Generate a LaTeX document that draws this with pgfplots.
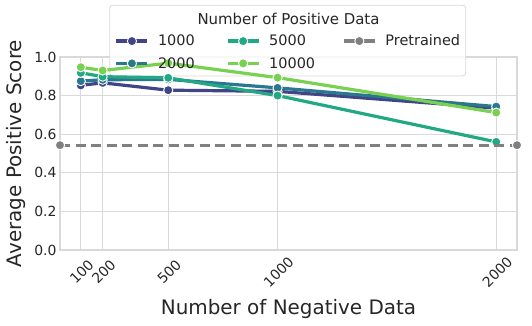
\documentclass[border=0pt]{standalone}
\usepackage{fontspec}
\setmainfont{DejaVu Sans}
\usepackage{pgfplots}
\pgfplotsset{compat=1.18}
\definecolor{v1}{HTML}{414487}
\definecolor{v2}{HTML}{2A788E}
\definecolor{v3}{HTML}{22A884}
\definecolor{v4}{HTML}{7AD151}
\definecolor{pre}{HTML}{808080}
\definecolor{gridc}{HTML}{D9D9D9}
\definecolor{txt}{HTML}{262626}

\pgfplotsset{
  ser/.style={line width=3.2bp, mark=*, mark size=4.6bp,
    mark options={draw=white, line width=0.9bp, solid}},
}
\newcommand{\lent}[2]{\hspace{9bp}\makebox[#1][l]{#2}}

\begin{document}
\begin{tikzpicture}[x=1bp,y=1bp]
\begin{axis}[
  scale only axis,
  width=457bp, height=193bp,
  xmin=5, xmax=2095, ymin=0, ymax=1,
  xtick={100,200,500,1000,2000},
  xticklabels={100,200,500,1000,2000},
  ytick={0,0.2,0.4,0.6,0.8,1.0},
  yticklabel style={/pgf/number format/.cd,fixed,fixed zerofill,precision=1},
  /pgf/number format/assume math mode=true,
  xticklabel style={yshift=-22bp, xshift=1bp, rotate=45, anchor=center},
  ticklabel style={font=\fontsize{14}{16}\selectfont, text=txt},
  major tick length=0pt,
  grid=major,
  grid style={draw=gridc, line width=1bp},
  axis line style={draw=gridc, line width=1.2bp},
  xlabel={Number of Negative Data},
  ylabel={Average Positive Score},
  label style={font=\fontsize{20}{23}\selectfont, text=txt},
  xlabel style={at={(rel axis cs:0.5,0)}, anchor=center, yshift=-59bp},
  ylabel style={at={(rel axis cs:0,0.5)}, anchor=center, yshift=44bp},
  clip mode=individual,
  legend columns=3,
  legend style={at={(rel axis cs:0.12,1.125)}, anchor=north west, draw=none, fill=none,
    inner sep=0pt, outer sep=0pt,
    font=\fontsize{14.5}{17}\selectfont, text=txt,
    column sep=0pt,
    nodes={inner xsep=0pt},
    row sep=6bp},
  legend cell align=left,
  legend image code/.code={
    \draw[mark repeat=2, mark phase=2]
      plot coordinates {(0bp,0bp) (15.5bp,0bp) (31bp,0bp)};},
]
% legend frame and title, drawn under the legend entries
\path (rel axis cs:-0.1313,-0.3938) rectangle (rel axis cs:1.0328,1.2953);
\draw[draw=gridc, line width=0.8bp, fill=white, fill opacity=0.8, rounded corners=3bp]
  (rel axis cs:0.109,0.902) rectangle (rel axis cs:0.888,1.268);
\node[font=\fontsize{15}{18}\selectfont, text=txt] at (rel axis cs:0.5,1.195) {Number of Positive Data};

\addplot[ser, color=v1, forget plot] coordinates {
  (100,0.853) (200,0.866) (500,0.828) (1000,0.822) (2000,0.735)};
\addplot[ser, color=v2, forget plot] coordinates {
  (100,0.875) (200,0.882) (500,0.884) (1000,0.840) (2000,0.743)};
\addplot[ser, color=v3, forget plot] coordinates {
  (100,0.918) (200,0.898) (500,0.892) (1000,0.800) (2000,0.560)};
\addplot[ser, color=v4, forget plot] coordinates {
  (100,0.947) (200,0.930) (500,0.968) (1000,0.893) (2000,0.712)};
\addplot[ser, color=pre, dash pattern=on 10bp off 5.5bp, forget plot] coordinates {
  (5,0.543) (2095,0.543)};

\addlegendimage{ser, color=v1}
\addlegendentry{\lent{68bp}{1000}}
\addlegendimage{ser, color=v3}
\addlegendentry{\lent{73bp}{5000}}
\addlegendimage{ser, color=pre}
\addlegendentry{\lent{0bp}{Pretrained}}
\addlegendimage{ser, color=v2}
\addlegendentry{\lent{68bp}{2000}}
\addlegendimage{ser, color=v4}
\addlegendentry{\lent{73bp}{10000}}
\end{axis}
\end{tikzpicture}
\end{document}
